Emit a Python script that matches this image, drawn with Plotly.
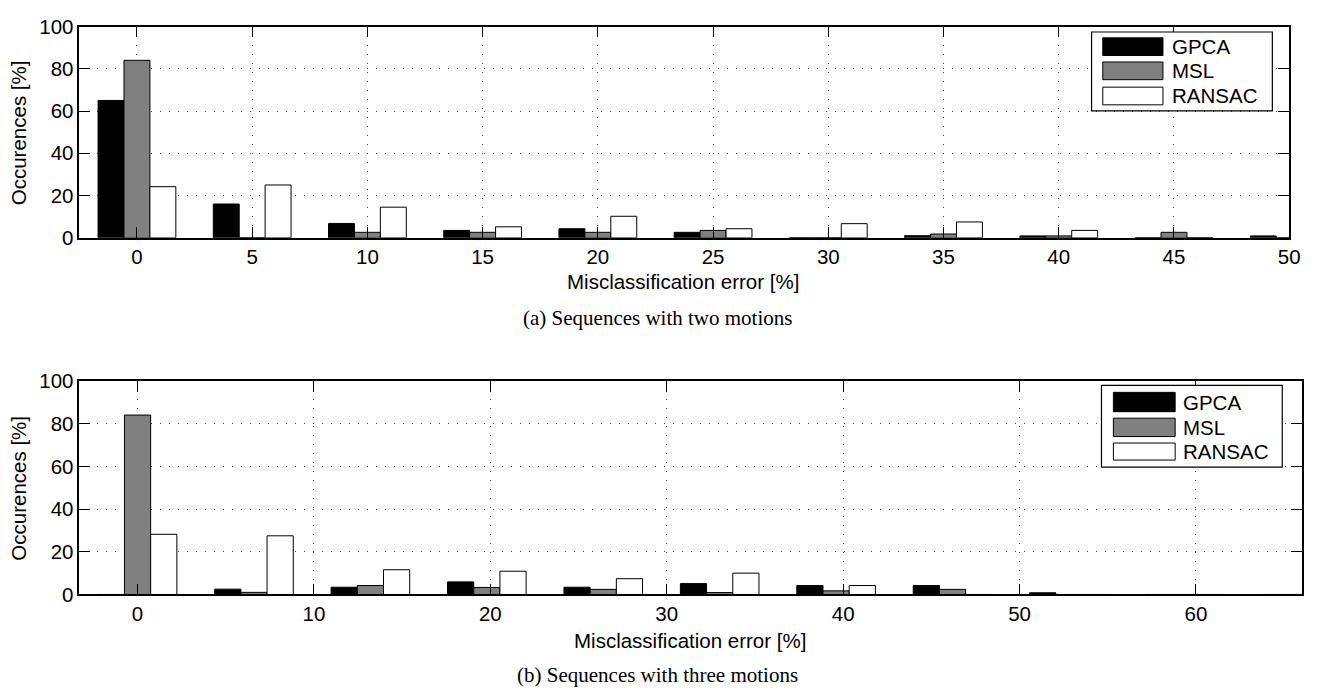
import plotly.graph_objects as go

# ---------------- data ----------------
bins_two = [0, 5, 10, 15, 20, 25, 30, 35, 40, 45, 50]
gpca_two = [65.0, 16.0, 6.8, 3.5, 4.3, 2.6, 0.0, 1.0, 0.9, 0.0, 0.9]
msl_two = [84.0, 0.0, 2.6, 2.6, 2.6, 3.5, 0.0, 1.8, 0.9, 2.6, 0.0]
ransac_two = [24.2, 25.0, 14.5, 5.2, 10.2, 4.3, 6.7, 7.5, 3.5, 0.0, 0.0]

bins_three = [0, 6.6, 13.2, 19.8, 26.4, 33.0, 39.6, 46.2, 52.8, 59.4, 66.0]
gpca_three = [0.0, 2.5, 3.4, 5.9, 3.4, 5.1, 4.2, 4.2, 0.8, 0.0, 0.0]
msl_three = [84.1, 1.0, 4.2, 3.3, 2.4, 0.9, 1.7, 2.4, 0.0, 0.0, 0.0]
ransac_three = [28.2, 27.5, 11.6, 10.9, 7.4, 10.0, 4.2, 0.0, 0.0, 0.0, 0.0]

ticks_two = [0, 5, 10, 15, 20, 25, 30, 35, 40, 45, 50]
ticks_three = [0, 10, 20, 30, 40, 50, 60]
ticks_y = [0, 20, 40, 60, 80, 100]

series_names = ["GPCA", "MSL", "RANSAC"]
series_colors = ["#000000", "#808080", "#ffffff"]

W, H = 1325, 699
SANS = "Liberation Sans, Arial, Helvetica, sans-serif"
SERIF = "Liberation Serif, Times New Roman, serif"
FS = 20.5


def px(x):
    return x / W


def py(y):
    return 1 - y / H


fig = go.Figure()

for vals, name, col in zip([gpca_two, msl_two, ransac_two], series_names, series_colors):
    fig.add_trace(go.Bar(x=bins_two, y=vals, name=name, marker=dict(color=col, line=dict(color="#000000", width=1)),
                         xaxis="x", yaxis="y", showlegend=False, offsetgroup=name))
for vals, name, col in zip([gpca_three, msl_three, ransac_three], series_names, series_colors):
    fig.add_trace(go.Bar(x=bins_three, y=vals, name=name, marker=dict(color=col, line=dict(color="#000000", width=1)),
                         xaxis="x2", yaxis="y2", showlegend=False, offsetgroup=name))

axis_common = dict(
    showline=True, linecolor="#000000", linewidth=1.5, mirror="ticks",
    ticks="inside", ticklen=11, tickwidth=1, tickcolor="#000000",
    showgrid=True, gridcolor="#444444", gridwidth=1, griddash="1px,8px",
    zeroline=False, tickfont=dict(family=SANS, size=FS, color="#000000"),
)

fig.update_layout(
    width=W, height=H, margin=dict(l=0, r=0, t=0, b=0),
    paper_bgcolor="#ffffff", plot_bgcolor="#ffffff",
    barmode="group", bargap=0.325, bargroupgap=0,
    xaxis=dict(domain=[px(80), px(1300)], range=[-2.5, 50], tickvals=ticks_two, anchor="y", **axis_common),
    yaxis=dict(domain=[py(233.5), py(15)], range=[0, 100], tickvals=ticks_y, anchor="x", **axis_common),
    xaxis2=dict(domain=[px(80), px(1312.7)], range=[-3.3, 66], tickvals=ticks_three, anchor="y2", **axis_common),
    yaxis2=dict(domain=[py(602.3), py(381.7)], range=[0, 100], tickvals=ticks_y, anchor="x2", **axis_common),
    showlegend=False,
)

annotations = []
shapes = []

# axis titles and captions
for (cx, cy, txt, fam, sz, ang) in [
    (689, 278.5, "Misclassification error [%]", SANS, FS, 0),
    (696, 650, "Misclassification error [%]", SANS, FS, 0),
    (19, 124.5, "Occurences [%]", SANS, FS, -90),
    (19, 492, "Occurences [%]", SANS, FS, -90),
    (662.5, 316, "(a) Sequences with two motions", SERIF, 21, 0),
    (662.5, 686, "(b) Sequences with three motions", SERIF, 21, 0),
]:
    annotations.append(dict(x=px(cx), y=py(cy), xref="paper", yref="paper", text=txt, showarrow=False,
                            xanchor="center", yanchor="middle", textangle=ang,
                            font=dict(family=fam, size=sz, color="#000000")))

# custom legends
legends = [
    dict(box=(1100.7, 20.7, 1283, 102.3), sw=(1112, 1172.7), rows=[(26.7, 45), (51.7, 70), (77.7, 96)], tx=1180),
    dict(box=(1110.7, 386, 1293, 470.7), sw=(1122.7, 1185), rows=[(393.3, 413.3), (420, 439), (445.7, 463.3)], tx=1191),
]
for lg in legends:
    x0, y0, x1, y1 = lg["box"]
    shapes.append(dict(type="rect", xref="paper", yref="paper", x0=px(x0), x1=px(x1), y0=py(y1), y1=py(y0),
                       fillcolor="#ffffff", line=dict(color="#000000", width=1.2), layer="above"))
    for (r0, r1), name, col in zip(lg["rows"], series_names, series_colors):
        shapes.append(dict(type="rect", xref="paper", yref="paper", x0=px(lg["sw"][0]), x1=px(lg["sw"][1]),
                           y0=py(r1), y1=py(r0), fillcolor=col, line=dict(color="#000000", width=1), layer="above"))
        annotations.append(dict(x=px(lg["tx"]), y=py((r0 + r1) / 2), xref="paper", yref="paper", text=name,
                                showarrow=False, xanchor="left", yanchor="middle",
                                font=dict(family=SANS, size=FS, color="#000000")))

fig.update_layout(annotations=annotations, shapes=shapes)

fig.write_html("out.html")
